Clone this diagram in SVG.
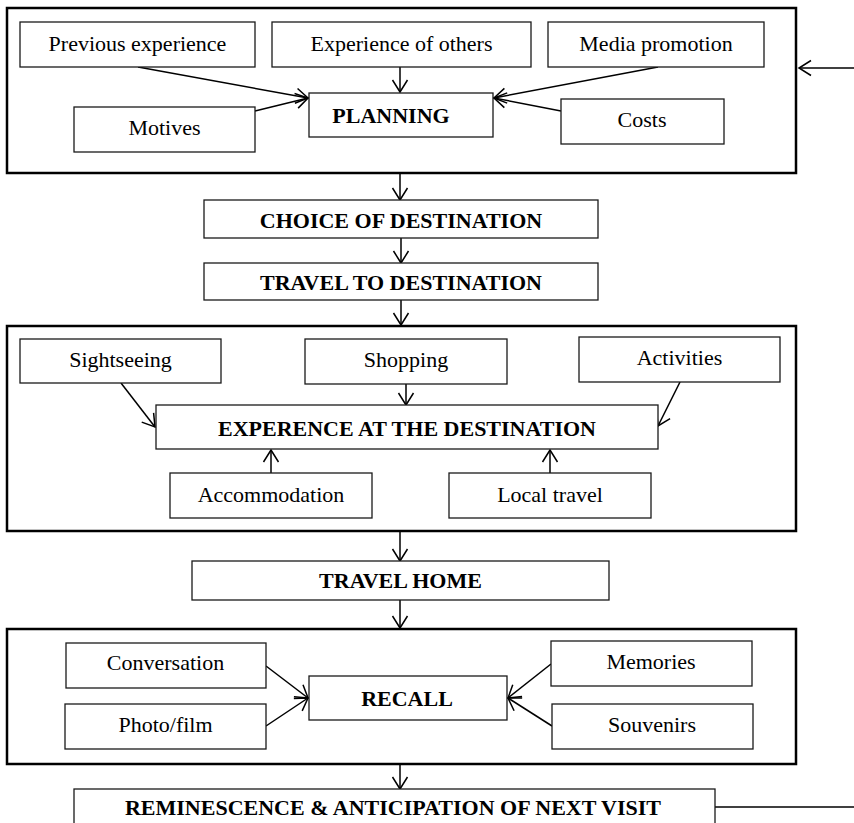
<svg xmlns="http://www.w3.org/2000/svg" width="854" height="823" viewBox="0 0 854 823">
  <style>
    .frame { fill: none; stroke: #000; stroke-width: 2.5; }
    .box { fill: #fff; stroke: #1a1a1a; stroke-width: 1.3; }
    .t { font-family: "Liberation Serif", "Times New Roman", serif; font-size: 22px; fill: #000; text-anchor: middle; }
    .b { font-weight: bold; }
    .c { fill: none; stroke: #000; stroke-width: 1.5; }
  </style>
  <defs>
    <marker id="arr" viewBox="-14 -9 16 18" refX="0" refY="0" markerWidth="16" markerHeight="18" markerUnits="userSpaceOnUse" orient="auto">
      <path d="M-12,-7.5 L0,0 L-12,7.5" fill="none" stroke="#000" stroke-width="1.5"/>
    </marker>
  </defs>
  <rect width="854" height="823" fill="#fff"/>

  <!-- stage frames -->
  <g id="frame-planning"><rect class="frame" x="7" y="8" width="789" height="165"/></g>
  <g id="frame-destination"><rect class="frame" x="7" y="326" width="789" height="205"/></g>
  <g id="frame-recall"><rect class="frame" x="7" y="629" width="789" height="135"/></g>

  <!-- connectors -->
  <g id="connectors">
    <line class="c" x1="138" y1="67" x2="308" y2="98" marker-end="url(#arr)"/>
    <line class="c" x1="255" y1="111" x2="308" y2="98" marker-end="url(#arr)"/>
    <line class="c" x1="400" y1="60" x2="400" y2="92" marker-end="url(#arr)"/>
    <line class="c" x1="658" y1="67" x2="494" y2="98" marker-end="url(#arr)"/>
    <line class="c" x1="561" y1="111" x2="494" y2="98" marker-end="url(#arr)"/>
    <line class="c" x1="854" y1="68" x2="799" y2="68" marker-end="url(#arr)"/>
    <line class="c" x1="400" y1="173" x2="400" y2="200" marker-end="url(#arr)"/>
    <line class="c" x1="401" y1="238" x2="401" y2="263" marker-end="url(#arr)"/>
    <line class="c" x1="401" y1="300" x2="401" y2="325" marker-end="url(#arr)"/>
    <line class="c" x1="121" y1="383" x2="155" y2="427" marker-end="url(#arr)"/>
    <line class="c" x1="406" y1="384" x2="406" y2="405" marker-end="url(#arr)"/>
    <line class="c" x1="680" y1="382" x2="658" y2="426" marker-end="url(#arr)"/>
    <line class="c" x1="271" y1="473" x2="271" y2="450" marker-end="url(#arr)"/>
    <line class="c" x1="550" y1="473" x2="550" y2="450" marker-end="url(#arr)"/>
    <line class="c" x1="400" y1="531" x2="400" y2="561" marker-end="url(#arr)"/>
    <line class="c" x1="400" y1="600" x2="400" y2="628" marker-end="url(#arr)"/>
    <line class="c" x1="266" y1="666" x2="308" y2="698" marker-end="url(#arr)"/>
    <line class="c" x1="266" y1="726" x2="308" y2="698" marker-end="url(#arr)"/>
    <line class="c" x1="551" y1="664" x2="508" y2="698" marker-end="url(#arr)"/>
    <line class="c" x1="552" y1="726" x2="508" y2="698" marker-end="url(#arr)"/>
    <line class="c" x1="400" y1="764" x2="400" y2="789" marker-end="url(#arr)"/>
    <line class="c" x1="715" y1="807" x2="854" y2="807"/>
  </g>

  <!-- planning stage -->
  <g id="previous-experience"><rect class="box" x="20" y="22" width="235" height="45"/><text class="t" x="137.5" y="51">Previous experience</text></g>
  <g id="experience-of-others"><rect class="box" x="272" y="22" width="259" height="45"/><text class="t" x="401.5" y="51">Experience of others</text></g>
  <g id="media-promotion"><rect class="box" x="548" y="22" width="216" height="45"/><text class="t" x="656" y="51">Media promotion</text></g>
  <g id="motives"><rect class="box" x="74" y="107" width="181" height="45"/><text class="t" x="164.5" y="135">Motives</text></g>
  <g id="planning"><rect class="box" x="309" y="93" width="184" height="44"/><text class="t b" x="391" y="123">PLANNING</text></g>
  <g id="costs"><rect class="box" x="561" y="99" width="163" height="45"/><text class="t" x="642" y="127">Costs</text></g>

  <!-- travel out -->
  <g id="choice-of-destination"><rect class="box" x="204" y="200" width="394" height="38"/><text class="t b" x="401" y="228">CHOICE OF DESTINATION</text></g>
  <g id="travel-to-destination"><rect class="box" x="204" y="263" width="394" height="37"/><text class="t b" x="401" y="290">TRAVEL TO DESTINATION</text></g>

  <!-- destination stage -->
  <g id="sightseeing"><rect class="box" x="20" y="339" width="201" height="44"/><text class="t" x="120.5" y="367">Sightseeing</text></g>
  <g id="shopping"><rect class="box" x="305" y="339" width="202" height="45"/><text class="t" x="406" y="367">Shopping</text></g>
  <g id="activities"><rect class="box" x="579" y="337" width="201" height="45"/><text class="t" x="679.5" y="365">Activities</text></g>
  <g id="experience-at-destination"><rect class="box" x="156" y="405" width="502" height="44"/><text class="t b" x="407" y="436">EXPERENCE AT THE DESTINATION</text></g>
  <g id="accommodation"><rect class="box" x="170" y="473" width="202" height="45"/><text class="t" x="271" y="502">Accommodation</text></g>
  <g id="local-travel"><rect class="box" x="449" y="473" width="202" height="45"/><text class="t" x="550" y="502">Local travel</text></g>

  <!-- travel back -->
  <g id="travel-home"><rect class="box" x="192" y="561" width="417" height="39"/><text class="t b" x="400.5" y="588">TRAVEL HOME</text></g>

  <!-- recall stage -->
  <g id="conversation"><rect class="box" x="66" y="643" width="200" height="45"/><text class="t" x="165.5" y="670">Conversation</text></g>
  <g id="photo-film"><rect class="box" x="65" y="704" width="201" height="45"/><text class="t" x="165.5" y="732">Photo/film</text></g>
  <g id="recall"><rect class="box" x="309" y="676" width="198" height="44"/><text class="t b" x="407" y="706">RECALL</text></g>
  <g id="memories"><rect class="box" x="551" y="641" width="201" height="45"/><text class="t" x="651" y="669">Memories</text></g>
  <g id="souvenirs"><rect class="box" x="552" y="704" width="201" height="45"/><text class="t" x="652" y="732">Souvenirs</text></g>

  <!-- closing stage -->
  <g id="reminiscence"><rect class="box" x="74" y="789" width="641" height="45"/><text class="t b" x="393" y="815">REMINESCENCE &amp; ANTICIPATION OF NEXT VISIT</text></g>
</svg>
